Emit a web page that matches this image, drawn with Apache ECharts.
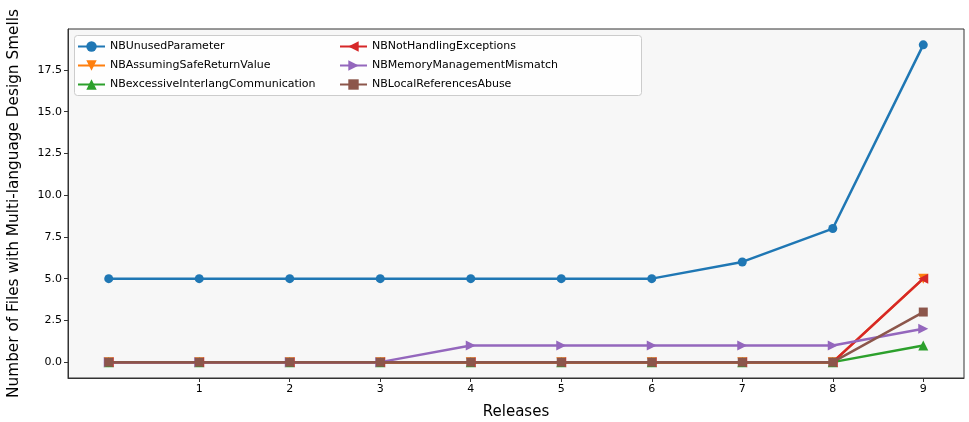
<!DOCTYPE html>
<html>
<head>
<meta charset="utf-8">
<script src="https://cdn.jsdelivr.net/npm/echarts@6/dist/echarts.min.js"></script>
<style>html,body{margin:0;padding:0;background:#fff}#c{width:969px;height:422px}</style>
</head>
<body>
<div id="c"></div>
<script>
const releases = [0, 1, 2, 3, 4, 5, 6, 7, 8, 9];
const xTickValues = [1, 2, 3, 4, 5, 6, 7, 8, 9];
const yTickValues = [0, 2.5, 5, 7.5, 10, 12.5, 15, 17.5];
const seriesNames = ['NBUnusedParameter', 'NBAssumingSafeReturnValue', 'NBexcessiveInterlangCommunication',
  'NBNotHandlingExceptions', 'NBMemoryManagementMismatch', 'NBLocalReferencesAbuse'];
const unusedParameter = [5, 5, 5, 5, 5, 5, 5, 6, 8, 19];
const assumingSafeReturnValue = [0, 0, 0, 0, 0, 0, 0, 0, 0, 5];
const excessiveInterlang = [0, 0, 0, 0, 0, 0, 0, 0, 0, 1];
const notHandlingExceptions = [0, 0, 0, 0, 0, 0, 0, 0, 0, 5];
const memoryManagementMismatch = [0, 0, 0, 0, 1, 1, 1, 1, 1, 2];
const localReferencesAbuse = [0, 0, 0, 0, 0, 0, 0, 0, 0, 3];

const values = [unusedParameter, assumingSafeReturnValue, excessiveInterlang,
  notHandlingExceptions, memoryManagementMismatch, localReferencesAbuse];
const colors = ['#1f77b4', '#ff7f0e', '#2ca02c', '#d62728', '#9467bd', '#8c564b'];
const symbols = ['circle', 'triangle', 'triangle', 'triangle', 'triangle', 'rect'];
const rotates = [0, 180, 0, 90, -90, 0];
const sizes = [9, 10, 10, 10, 10, 9];

const font = 'DejaVu Sans';
const chart = echarts.init(document.getElementById('c'), null, {renderer: 'canvas'});
const series = seriesNames.map((n, i) => ({
  name: n,
  type: 'line',
  data: releases.map((r, j) => [r, values[i][j]]),
  symbol: symbols[i],
  symbolSize: sizes[i],
  symbolRotate: rotates[i],
  showAllSymbol: true,
  clip: false,
  lineStyle: {width: 2.5, color: colors[i]},
  itemStyle: {color: colors[i]},
  color: colors[i],
  z: 2 + i,
  animation: false
}));
const legendCommon = {
  orient: 'vertical', top: 35, itemWidth: 27, itemHeight: 13, itemGap: 6,
  textStyle: {fontFamily: font, fontSize: 11, lineHeight: 13, color: '#000'},
  selectedMode: false
};
chart.setOption({
  animation: false,
  graphic: [{type: 'rect', shape: {x: 74.5, y: 35.5, width: 567, height: 60, r: 3},
    style: {fill: 'rgba(255,255,255,0.8)', stroke: '#cccccc', lineWidth: 1}, z: 100}],
  legend: [
    Object.assign({}, legendCommon, {left: 72, data: seriesNames.slice(0, 3), z: 101}),
    Object.assign({}, legendCommon, {left: 334, data: seriesNames.slice(3), z: 101})
  ],
  grid: {left: 68, right: 5, top: 29, bottom: 44, show: true, backgroundColor: '#f7f7f7',
    borderColor: '#333', borderWidth: 1, outerBoundsMode: 'none', containLabel: false},
  xAxis: {
    type: 'value', min: -0.45, max: 9.45,
    name: 'Releases', nameLocation: 'middle', nameGap: 27,
    nameTextStyle: {fontFamily: font, fontSize: 15, color: '#000'},
    axisLine: {show: true, onZero: false, lineStyle: {color: '#333'}},
    axisTick: {show: true, length: 4, customValues: xTickValues, lineStyle: {color: '#333'}},
    axisLabel: {customValues: xTickValues, fontFamily: font, fontSize: 11, color: '#000', margin: 6},
    splitLine: {show: false}
  },
  yAxis: {
    type: 'value', min: -0.95, max: 19.95,
    name: 'Number of Files with Multi-language Design Smells', nameLocation: 'middle', nameGap: 46,
    nameTextStyle: {fontFamily: font, fontSize: 15.3, color: '#000'},
    axisLine: {show: true, onZero: false, lineStyle: {color: '#333'}},
    axisTick: {show: true, length: 4, customValues: yTickValues, lineStyle: {color: '#333'}},
    axisLabel: {customValues: yTickValues, fontFamily: font, fontSize: 11, color: '#000', margin: 6,
      formatter: v => v.toFixed(1)},
    splitLine: {show: false}
  },
  series: series
});
</script>
</body>
</html>
